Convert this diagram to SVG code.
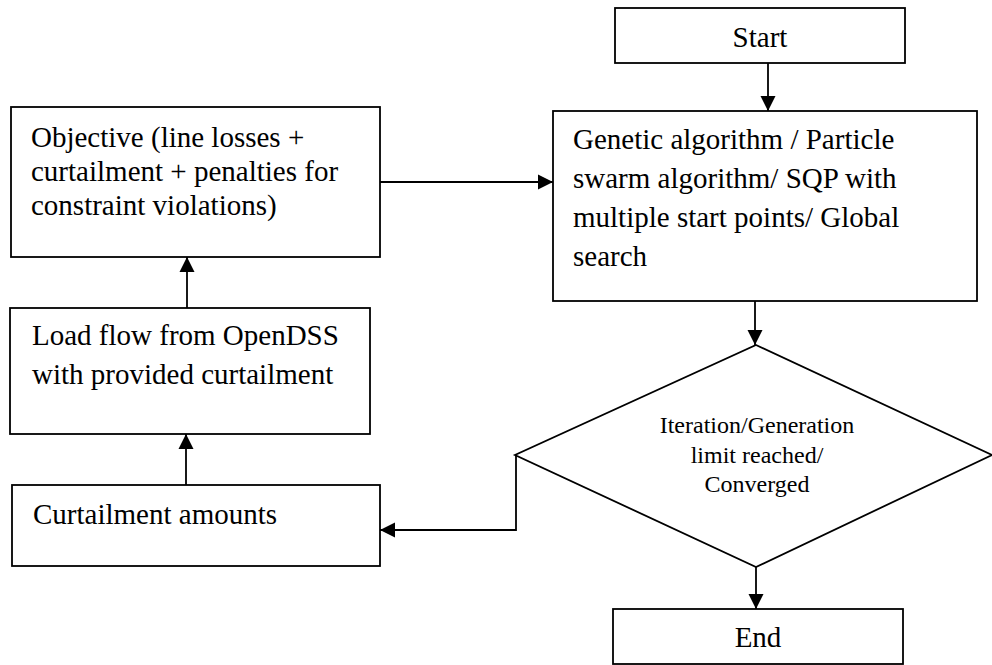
<svg xmlns="http://www.w3.org/2000/svg" width="992" height="665" viewBox="0 0 992 665">
<defs>
<style>
.box{fill:#fff;stroke:#000;stroke-width:1.8}
.t{font-family:"Liberation Serif","Times New Roman",serif;font-size:29px;fill:#000}
.ts{font-family:"Liberation Serif","Times New Roman",serif;font-size:24px;fill:#000;text-anchor:middle}
.c{text-anchor:middle}
.ln{fill:none;stroke:#000;stroke-width:1.8}
</style>
<marker id="ah" markerUnits="userSpaceOnUse" markerWidth="16" markerHeight="16" viewBox="0 0 16 16" refX="15" refY="8" orient="auto">
<path d="M0,0.5 L15,8 L0,15.5 Z" fill="#000"/>
</marker>
</defs>
<rect width="992" height="665" fill="#fff"/>
<g id="start">
<rect class="box" x="615" y="8" width="290" height="55"/>
<text class="t c" x="760" y="47">Start</text>
</g>
<g id="optimizer">
<rect class="box" x="553" y="111" width="424" height="190"/>
<text class="t" x="573" y="149">Genetic algorithm / Particle</text>
<text class="t" x="573" y="188">swarm algorithm/ SQP with</text>
<text class="t" x="573" y="227">multiple start points/ Global</text>
<text class="t" x="573" y="266">search</text>
</g>
<g id="objective">
<rect class="box" x="11" y="107" width="369" height="150"/>
<text class="t" x="31" y="147">Objective (line losses +</text>
<text class="t" x="31" y="181">curtailment + penalties for</text>
<text class="t" x="31" y="215">constraint violations)</text>
</g>
<g id="loadflow">
<rect class="box" x="10" y="308" width="360" height="126"/>
<text class="t" x="32" y="345">Load flow from OpenDSS</text>
<text class="t" x="32" y="384">with provided curtailment</text>
</g>
<g id="curtailment">
<rect class="box" x="12" y="485" width="368" height="81"/>
<text class="t" x="33" y="524">Curtailment amounts</text>
</g>
<g id="decision">
<polygon class="box" points="756,345 992,455 756,567 515,455"/>
<text class="ts" x="757" y="433">Iteration/Generation</text>
<text class="ts" x="757" y="463">limit reached/</text>
<text class="ts" x="757" y="492">Converged</text>
</g>
<g id="end">
<rect class="box" x="613" y="609" width="290" height="55"/>
<text class="t c" x="758" y="647">End</text>
</g>
<g id="connectors">
<line class="ln" x1="768" y1="63" x2="768" y2="111" marker-end="url(#ah)"/>
<line class="ln" x1="380" y1="182" x2="553" y2="182" marker-end="url(#ah)"/>
<line class="ln" x1="755" y1="301" x2="755" y2="345" marker-end="url(#ah)"/>
<line class="ln" x1="756" y1="567" x2="756" y2="609" marker-end="url(#ah)"/>
<polyline class="ln" points="516,455 516,530 380,530" marker-end="url(#ah)"/>
<line class="ln" x1="186" y1="485" x2="186" y2="434" marker-end="url(#ah)"/>
<line class="ln" x1="187" y1="308" x2="187" y2="257" marker-end="url(#ah)"/>
</g>
</svg>
